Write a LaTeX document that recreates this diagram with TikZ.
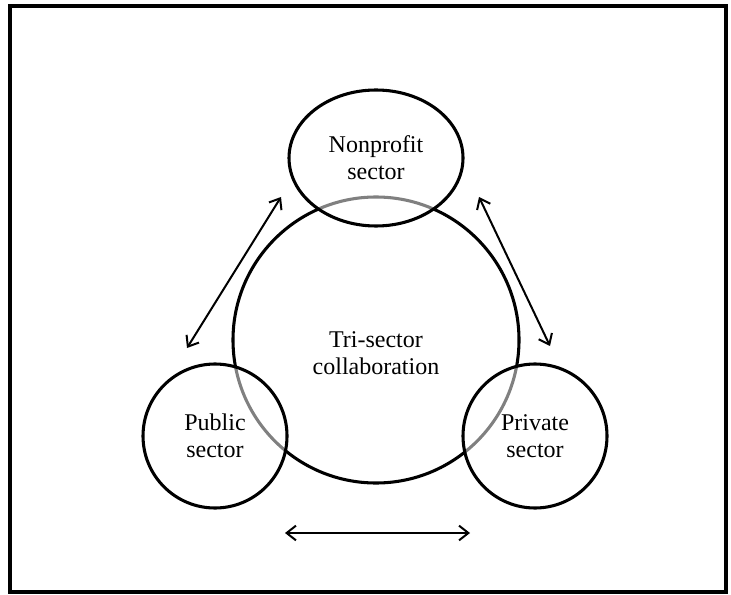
\documentclass[tikz,border=0pt]{standalone}
\usepackage{fontspec}
\setmainfont{Liberation Serif}
\usetikzlibrary{positioning,shapes.geometric,arrows.meta}

\begin{document}
\begin{tikzpicture}[
  x=0.75pt, y=-0.75pt,
  every node/.style={align=center,font=\fontsize{18}{20.5}\selectfont},
  sector/.style={draw,line width=2.3pt,fill=white,fill opacity=0.5,text opacity=1,inner sep=0pt},
  link/.style={{Straight Barb[length=7pt,width=11pt]}-{Straight Barb[length=7pt,width=11pt]},line width=1.5pt}
]
\useasboundingbox (0,0) rectangle (731,595);
\draw[line width=2.4pt] (10,6) rectangle (726,592);

\node[circle,draw,line width=2.3pt,minimum size=214.5pt,inner sep=0pt] (tri) at (376,340) {};
\node (trilabel) at (376,353) {Tri-sector\\collaboration};

\node[sector,ellipse,minimum width=130.5pt,minimum height=102pt] (nonprofit) at (376,158) {Nonprofit\\sector};
\node[sector,circle,minimum size=108pt] (public) at (215,436) {Public\\sector};
\node[sector,circle,minimum size=108pt] (private) at (535,436) {Private\\sector};

\coordinate (pn1) at (187,348);
\coordinate (pn2) at (281,197);
\coordinate (np1) at (479,197);
\coordinate (np2) at (550,346);
\coordinate (pp1) at (285,533);
\coordinate (pp2) at (470,533);

\draw[link] (pn1) -- (pn2);
\draw[link] (np1) -- (np2);
\draw[link] (pp1) -- (pp2);
\end{tikzpicture}
\end{document}
